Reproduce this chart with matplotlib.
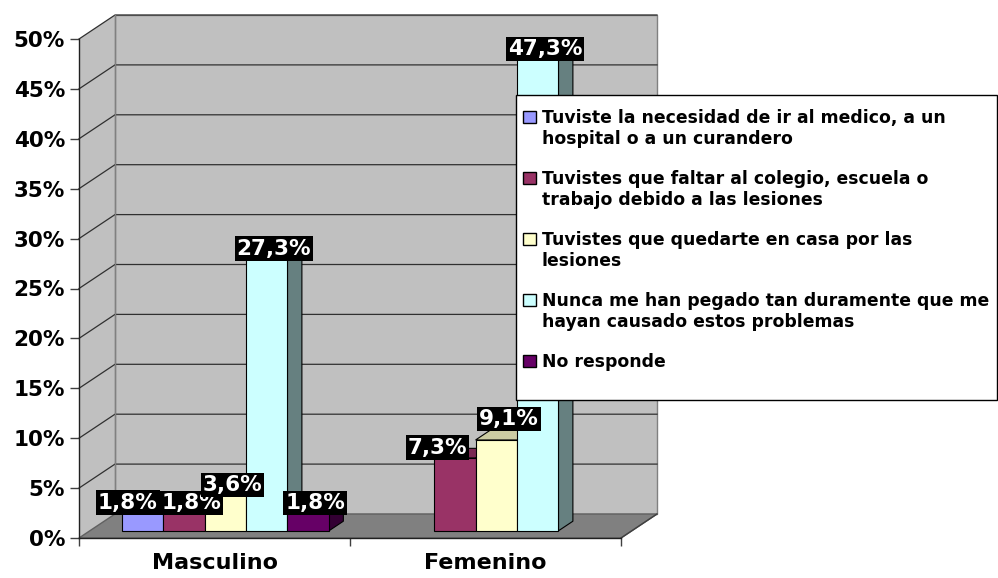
import matplotlib
matplotlib.use('Agg')
import matplotlib.pyplot as plt
from matplotlib.patches import Polygon, Rectangle

plt.rcParams['font.family'] = ['DejaVu Sans']

# ---------------- data ----------------
categories = ['Masculino', 'Femenino']
series_names = [
    'Tuviste la necesidad de ir al medico, a un\nhospital o a un curandero',
    'Tuvistes que faltar al colegio, escuela o\ntrabajo debido a las lesiones',
    'Tuvistes que quedarte en casa por las\nlesiones',
    'Nunca me han pegado tan duramente que me\nhayan causado estos problemas',
    'No responde',
]
s_medico = [1.8, 0.0]
s_faltar = [1.8, 7.3]
s_casa = [3.6, 9.1]
s_nunca = [27.3, 47.3]
s_nr = [1.8, 0.0]
series_values = [s_medico, s_faltar, s_casa, s_nunca, s_nr]
colors = ['#9999FF', '#993366', '#FFFFCC', '#CCFFFF', '#660066']
y_ticks = [0, 5, 10, 15, 20, 25, 30, 35, 40, 45, 50]
y_ticklabels = [f'{t}%' for t in y_ticks]

# ---------------- layout ----------------
W, H = 998, 578
fig = plt.figure(figsize=(W / 100, H / 100), dpi=100)
fig.patch.set_facecolor('white')

ax_l, ax_r, ax_b, ax_t = 79, 621, 538, 39
ax = fig.add_axes([ax_l / W, (H - ax_b) / H, (ax_r - ax_l) / W, (ax_b - ax_t) / H])
ax.set_xlim(0, 2)
ax.set_ylim(0, 50)
ax.patch.set_visible(False)

px_x = (ax_r - ax_l) / 2.0
px_y = (ax_b - ax_t) / 50.0
DX = 36 / px_x
DY = 24 / px_y

def shade(c, f):
    import matplotlib.colors as mc
    r, g, b = mc.to_rgb(c)
    return (r * f, g * f, b * f)

# walls and floor
ax.add_patch(Polygon([(0, 0), (0, 50), (DX, 50 + DY), (DX, DY)], closed=True,
                     fc='#C0C0C0', ec='none', zorder=0, clip_on=False))
ax.add_patch(Polygon([(DX, DY), (DX, 50 + DY), (2 + DX, 50 + DY), (2 + DX, DY)], closed=True,
                     fc='#C0C0C0', ec='#808080', lw=1, zorder=0, clip_on=False))
ax.add_patch(Polygon([(0, 0), (2, 0), (2 + DX, DY), (DX, DY)], closed=True,
                     fc='#808080', ec='#606060', lw=1, zorder=0.5, clip_on=False))
for v in y_ticks[1:]:
    ax.plot([0, DX, 2 + DX], [v, v + DY, v + DY], color='#303030', lw=0.9,
            zorder=0.3, clip_on=False)
ax.plot([DX, DX], [DY, 50 + DY], color='#808080', lw=1, zorder=0.4, clip_on=False)
ax.plot([2, 2 + DX], [0, DY], color='#404040', lw=1, zorder=0.6, clip_on=False)

# bars
n = len(series_values)
w = 0.153
fd, bd = 0.3, 0.4
z = 2
for i in range(len(categories)):
    for j in range(n):
        v = series_values[j][i]
        if v <= 0:
            continue
        x0 = i + 0.5 - n / 2 * w + j * w + fd * DX
        y0 = fd * DY
        ddx, ddy = bd * DX, bd * DY
        c = colors[j]
        front = [(x0, y0), (x0 + w, y0), (x0 + w, y0 + v), (x0, y0 + v)]
        top = [(x0, y0 + v), (x0 + w, y0 + v), (x0 + w + ddx, y0 + v + ddy), (x0 + ddx, y0 + v + ddy)]
        side = [(x0 + w, y0), (x0 + w + ddx, y0 + ddy), (x0 + w + ddx, y0 + v + ddy), (x0 + w, y0 + v)]
        ax.add_patch(Polygon(side, closed=True, fc=shade(c, 0.5), ec='black', lw=0.8, zorder=z, clip_on=False))
        ax.add_patch(Polygon(top, closed=True, fc=shade(c, 0.8), ec='black', lw=0.8, zorder=z, clip_on=False))
        ax.add_patch(Polygon(front, closed=True, fc=c, ec='black', lw=0.8, zorder=z + 0.1, clip_on=False))
        z += 0.2

# data labels
label_shift = {(0, 0): (-22, 5.5), (1, 1): (-24.6, 5.5), (1, 2): (5.5, 16)}
for i in range(len(categories)):
    for j in range(n):
        v = series_values[j][i]
        if v <= 0:
            continue
        cx = i + 0.5 - n / 2 * w + (j + 0.5) * w
        dxp, dyp = label_shift.get((i, j), (0, 5))
        txt = f'{v:.1f}'.replace('.', ',') + '%'
        ax.annotate(txt, xy=(cx + 0.5 * DX, v + 0.5 * DY), xytext=(dxp, dyp),
                    textcoords='offset pixels', ha='center', va='center',
                    color='white', fontsize=15.5, fontweight='bold', zorder=20,
                    annotation_clip=False,
                    bbox=dict(boxstyle='square,pad=0.1', fc='black', ec='none'))

# axes / ticks
for s in ['top', 'right']:
    ax.spines[s].set_visible(False)
for s in ['left', 'bottom']:
    ax.spines[s].set_color('#202020')
    ax.spines[s].set_linewidth(1)
ax.set_yticks(y_ticks)
ax.set_yticklabels(y_ticklabels, fontsize=15.5, fontweight='bold')
ax.tick_params(axis='y', length=6.5, width=1, color='#404040', pad=3.6)
ax.set_xticks([0, 1, 2])
ax.set_xticklabels([])
ax.set_xticks([0.5, 1.5], minor=True)
ax.set_xticklabels(categories, minor=True, fontsize=16, fontweight='bold')
ax.tick_params(axis='x', which='major', length=6, width=1, color='#404040')
ax.tick_params(axis='x', which='minor', length=0, pad=11)

# legend
lg = fig.add_axes([0, 0, 1, 1], zorder=10)
lg.set_xlim(0, W)
lg.set_ylim(H, 0)
lg.axis('off')
lg.patch.set_visible(False)
lg.add_patch(Rectangle((516, 95), 481, 305, fc='white', ec='black', lw=1))
for k, (name, c) in enumerate(zip(series_names, colors)):
    base = 123 + 61 * k
    lg.add_patch(Rectangle((523, base - 12), 13, 12, fc=c, ec='black', lw=1))
    for li, line in enumerate(name.split('\n')):
        lg.text(542, base + 21 * li, line, fontsize=12.4, fontweight='bold',
                ha='left', va='baseline', color='black')

fig.savefig('out.png', dpi=100)
